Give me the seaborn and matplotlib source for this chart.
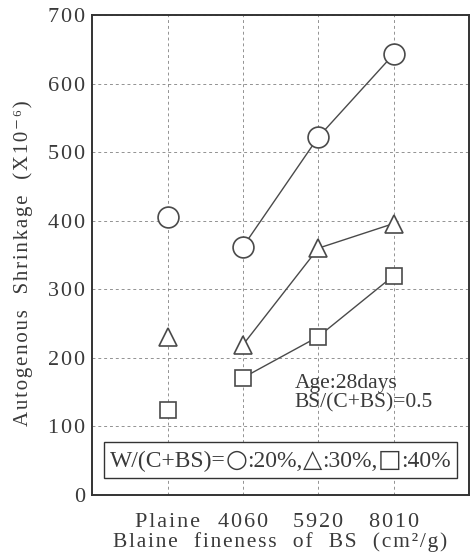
import pandas as pd
import matplotlib.pyplot as plt
import seaborn as sns
from matplotlib.offsetbox import TextArea, HPacker, AnchoredOffsetbox

categories = ['Plaine', '4060', '5920', '8010']
wc20 = [405, 362, 522, 643]
wc30 = [231, 219, 360, 396]
wc40 = [124, 171, 231, 320]
series_names = ['20%', '30%', '40%']
markers = {'20%': 'o', '30%': '^', '40%': 's'}
sizes = {'20%': 15, '30%': 13, '40%': 11}

sns.set_style('white')
plt.rcParams['font.family'] = ['Liberation Serif', 'DejaVu Sans']

HS = '\u200a'  # hair space, used as letter spacing


def spaced(s):
    return HS.join(s)


rows = []
for name, vals in zip(series_names, [wc20, wc30, wc40]):
    for i, (cat, v) in enumerate(zip(categories, vals)):
        rows.append({'series': name, 'pos': i + 1, 'cat': cat, 'value': v})
df = pd.DataFrame(rows)

fig = plt.figure(figsize=(4.7, 5.6), dpi=100)
ax = fig.add_axes([0.196, 0.116, 0.802, 0.857])

col = '#4a4a4a'
txt = '#3a3a3a'
for name in series_names:
    sub = df[df['series'] == name]
    conn = sub[sub['cat'] != 'Plaine']
    sns.lineplot(data=conn, x='pos', y='value', ax=ax, color=col, linewidth=1.0,
                 marker=markers[name], markersize=sizes[name], markerfacecolor='white',
                 markeredgecolor=col, markeredgewidth=1.2, zorder=5)
    plaine = sub[sub['cat'] == 'Plaine']
    ax.plot(plaine['pos'], plaine['value'], linestyle='none', marker=markers[name],
            markersize=sizes[name], markerfacecolor='white', markeredgecolor=col,
            markeredgewidth=1.2, zorder=5)

ax.set_xlim(0, 5)
ax.set_ylim(0, 700)
ax.set_xticks(range(1, len(categories) + 1))
ax.set_xticklabels([spaced(c) for c in categories])
ax.set_yticks(range(0, 701, 100))
ax.set_yticklabels([spaced(str(v)) for v in range(0, 701, 100)])
ax.tick_params(axis='both', length=0, labelsize=16, colors=txt)
ax.tick_params(axis='x', pad=13)
ax.tick_params(axis='y', pad=5)
ax.grid(True, linestyle=(0, (3, 3)), color='#777777', linewidth=0.7, alpha=0.8)
for s in ax.spines.values():
    s.set_linewidth(1.4)
    s.set_color('#333333')

ax.set_xlabel('   '.join(spaced(w) for w in ['Blaine', 'fineness', 'of', 'BS', '(cm²/g)']),
              fontsize=15.5, color=txt, labelpad=0)
ax.set_ylabel('   '.join(spaced(w) for w in ['Autogenous', 'Shrinkage', '(X10⁻⁶)']),
              fontsize=15, color=txt)
ax.yaxis.set_label_coords(-0.156, 0.483)

ax.text(0.538, 0.173, 'Age:28days\nBS/(C+BS)=0.5', transform=ax.transAxes, ha='left',
        va='bottom', fontsize=15.5, color=txt, linespacing=1.0)

# legend-like box with shape symbols
serif = dict(color=txt, fontsize=17)
shape = dict(color=txt, fontsize=18, family='DejaVu Sans')
pieces = [('W/(C+BS)=', serif), ('○', shape), (':20%,', serif), ('△', shape),
          (':30%,', serif), ('□', shape), (':40%', serif)]
areas = [TextArea(t, textprops=p) for t, p in pieces]
box = HPacker(children=areas, align='baseline', pad=0, sep=0)
anchored = AnchoredOffsetbox(loc='center', child=box, pad=0.45, frameon=True,
                             bbox_to_anchor=(0.499, 0.073), bbox_transform=ax.transAxes,
                             borderpad=0)
anchored.patch.set_edgecolor('#333333')
anchored.patch.set_linewidth(1.0)
anchored.patch.set_boxstyle('square', pad=0)
anchored.set_zorder(6)
ax.add_artist(anchored)

fig.savefig('out.png', dpi=100)
